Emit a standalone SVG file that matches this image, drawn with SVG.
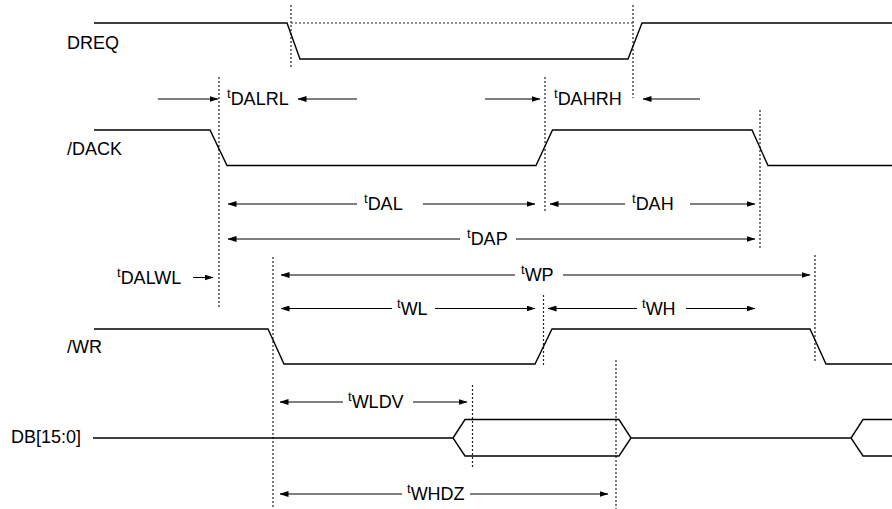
<svg xmlns="http://www.w3.org/2000/svg" width="892" height="509" viewBox="0 0 892 509">
<style>
.sig{fill:none;stroke:#000;stroke-width:1.4}
.dot{fill:none;stroke:#222;stroke-width:1.2;stroke-dasharray:2,2}
.arr{fill:none;stroke:#000;stroke-width:1.1;marker-end:url(#ah)}
.lbl{font-family:"Liberation Sans",Arial,sans-serif;font-size:18px;fill:#000}
.t{font-size:13px}
</style>
<defs>
<marker id="ah" markerUnits="userSpaceOnUse" markerWidth="9" markerHeight="6" refX="8.5" refY="3" orient="auto">
<path d="M0,0 L9,3 L0,6 Z" fill="#000"/>
</marker>
</defs>
<rect width="892" height="509" fill="#fff"/>
<g id="guides">
<path class="dot" d="M291,5 V67 M633,5 V98 M291,23 H633 M219,77 V308 M545,77 V213 M760,110 V248 M273,257 V509 M815,255 V363 M543.5,295 V365 M472.5,385 V468 M616,360 V509"/>
</g>
<g id="DREQ">
<text class="lbl" x="67" y="49">DREQ</text>
<path class="sig" d="M94,23 H287 L300,59 H628 L642,23 H892"/>
</g>
<g id="DACK">
<text class="lbl" x="67" y="155">/DACK</text>
<path class="sig" d="M94,130 H210 L227,165.5 H536 L552.5,130 H752 L768,165.5 H892"/>
</g>
<g id="WR">
<text class="lbl" x="67" y="353">/WR</text>
<path class="sig" d="M94,329 H268 L284,364 H535 L552,329 H810 L826,364 H892"/>
</g>
<g id="DB">
<text class="lbl" x="11" y="443">DB[15:0]</text>
<path class="sig" d="M93,438 H453 M453,438 L465,419.5 H619 L631,438 L619,456 H465 Z M631,438 H851 M892,419.5 H863 L851,438 L863,456 H892"/>
</g>
<g id="connectors">
<path class="arr" d="M158,99 H218"/>
<path class="arr" d="M357,99 H298"/>
<path class="arr" d="M485,99 H540"/>
<path class="arr" d="M700,99 H643"/>
<path class="arr" d="M357,204 H228"/>
<path class="arr" d="M423,204 H535"/>
<path class="arr" d="M625,204 H550"/>
<path class="arr" d="M690,204 H755"/>
<path class="arr" d="M460,239 H228"/>
<path class="arr" d="M516,239 H755"/>
<path class="arr" d="M515,275 H281"/>
<path class="arr" d="M563,275 H810"/>
<path class="arr" d="M392,308.5 H281"/>
<path class="arr" d="M435,308.5 H535"/>
<path class="arr" d="M637,308.5 H548"/>
<path class="arr" d="M686,308.5 H755"/>
<path class="arr" d="M193,277.5 H213"/>
<path class="arr" d="M343,402 H280"/>
<path class="arr" d="M413,402 H467"/>
<path class="arr" d="M402,494 H280"/>
<path class="arr" d="M470,494 H608"/>
</g>
<g id="labels">
<text class="lbl" x="227" y="105"><tspan class="t" dy="-7">t</tspan><tspan dy="7">DALRL</tspan></text>
<text class="lbl" x="554" y="105"><tspan class="t" dy="-7">t</tspan><tspan dy="7">DAHRH</tspan></text>
<text class="lbl" x="364" y="210"><tspan class="t" dy="-7">t</tspan><tspan dy="7">DAL</tspan></text>
<text class="lbl" x="632" y="210"><tspan class="t" dy="-7">t</tspan><tspan dy="7">DAH</tspan></text>
<text class="lbl" x="467" y="245"><tspan class="t" dy="-7">t</tspan><tspan dy="7">DAP</tspan></text>
<text class="lbl" x="521" y="281"><tspan class="t" dy="-7">t</tspan><tspan dy="7">WP</tspan></text>
<text class="lbl" x="397" y="315"><tspan class="t" dy="-7">t</tspan><tspan dy="7">WL</tspan></text>
<text class="lbl" x="642" y="315"><tspan class="t" dy="-7">t</tspan><tspan dy="7">WH</tspan></text>
<text class="lbl" x="117" y="284"><tspan class="t" dy="-7">t</tspan><tspan dy="7">DALWL</tspan></text>
<text class="lbl" x="348" y="408"><tspan class="t" dy="-7">t</tspan><tspan dy="7">WLDV</tspan></text>
<text class="lbl" x="407" y="500"><tspan class="t" dy="-7">t</tspan><tspan dy="7">WHDZ</tspan></text>
</g>
</svg>
